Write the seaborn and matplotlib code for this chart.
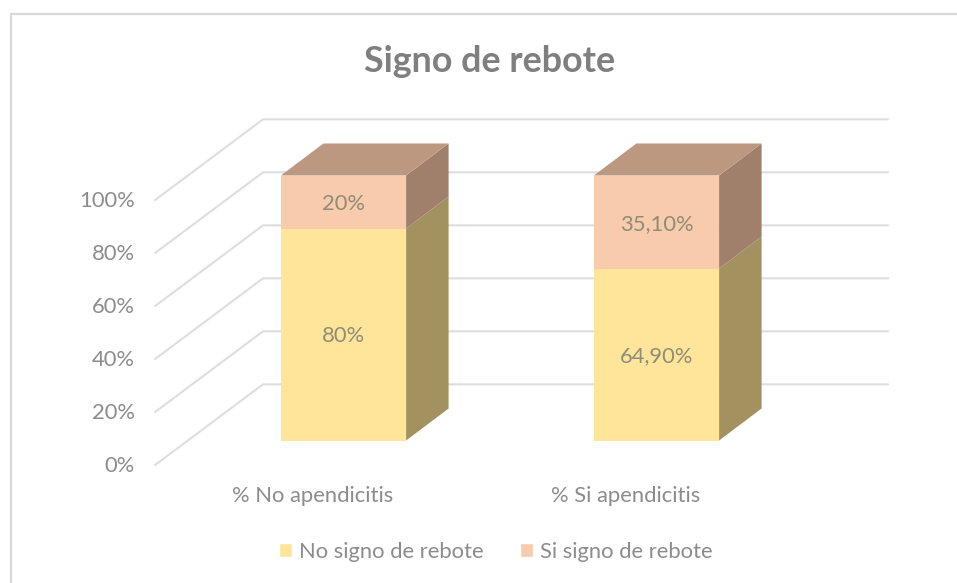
"""
Signo de rebote - stacked bars with a drawn 3D look
"""

import numpy as np
import matplotlib
matplotlib.use('Agg')
import matplotlib.pyplot as plt
from matplotlib.lines import Line2D
from matplotlib.patches import Polygon, Patch
import seaborn as sns

# Data
categories = ['% No apendicitis', '% Si apendicitis']
no_signo = [80, 64.9]
si_signo = [20, 35.1]
no_labels = ['80%', '64,90%']
si_labels = ['20%', '35,10%']
series_names = ['No signo de rebote', 'Si signo de rebote']
y_ticks = [0, 20, 40, 60, 80, 100]

# Colours
YELLOW, PEACH = '#FEE599', '#F7CBAC'
YELLOW_SIDE, PEACH_SIDE, PEACH_TOP = '#A39260', '#A07F6B', '#BD9880'
GRID = '#DEDEDE'
TEXT = '#8C8C8C'

sns.set_style('white')
plt.rcParams['font.family'] = ['Lato', 'DejaVu Sans']

fig = plt.figure(figsize=(9.57, 5.83), dpi=100)
ax = fig.add_axes([0, 0, 1, 1])

# Scale: one category step is 313 px, 100% is 265 px
x_px, y_px = 313.0, 2.65

# Cumulative bar behind, lower segment on top
bar_w = 0.4
total = np.array(no_signo) + np.array(si_signo)
sns.barplot(x=categories, y=total, color=PEACH, width=bar_w, saturation=1, linewidth=0, ax=ax, zorder=3)
sns.barplot(x=categories, y=no_signo, color=YELLOW, width=bar_w, saturation=1, linewidth=0, ax=ax, zorder=4)
ax.set_xlim(-343.5 / x_px, (957 - 343.5) / x_px)
ax.set_ylim(-(583 - 440.5) / y_px, 440.5 / y_px)
ax.axis('off')

# Floor and wall lines
wall_dy, floor_dy = 21.2, -9.25
left_x, corner_x, right_x = -0.602, -0.257, 1.74
for t in y_ticks:
    ax.plot([left_x, corner_x, right_x], [t + floor_dy, t + wall_dy, t + wall_dy],
            color=GRID, lw=1.5, solid_joinstyle='miter', zorder=1)
    ax.text(-0.666, t - 9.6, f'{t}%', ha='right', va='center', fontsize=15.8, color=TEXT)

# Side and top faces
dx, dy = 42.5 / x_px, 32 / y_px
for i in range(len(categories)):
    x1 = i + bar_w / 2
    x0 = i - bar_w / 2
    a, b = no_signo[i], total[i]
    ax.add_patch(Polygon([(x1, 0), (x1 + dx, dy), (x1 + dx, a + dy), (x1, a)],
                         facecolor=YELLOW_SIDE, edgecolor='none', zorder=5))
    ax.add_patch(Polygon([(x1, a), (x1 + dx, a + dy), (x1 + dx, b + dy), (x1, b)],
                         facecolor=PEACH_SIDE, edgecolor='none', zorder=5))
    ax.add_patch(Polygon([(x0, b), (x0 + dx, b + dy), (x1 + dx, b + dy), (x1, b)],
                         facecolor=PEACH_TOP, edgecolor='none', zorder=5))
    ax.text(i, a / 2 - 0.5, no_labels[i], ha='center', va='center', fontsize=15.8, color='#8F8C78', zorder=6)
    ax.text(i, a + si_signo[i] / 2 - 0.7, si_labels[i], ha='center', va='center', fontsize=15.8, color='#8F8C78', zorder=6)
    ax.text(i - 0.1, -21, categories[i], ha='center', va='center', fontsize=15.8, color=TEXT)

ax.text(0.512, 0.895, 'Signo de rebote', transform=fig.transFigure, ha='center', va='center',
        fontsize=25.8, fontweight='bold', color='#7F7F7F')

handles = [Patch(facecolor=YELLOW, label=series_names[0]), Patch(facecolor=PEACH, label=series_names[1])]
fig.legend(handles=handles, loc='center', bbox_to_anchor=(0.518, 0.0535), ncol=2, frameon=False,
           fontsize=15.8, labelcolor=TEXT, handlelength=0.6, handleheight=0.6,
           handletextpad=0.3, columnspacing=1.65)

# Chart frame: left and top edges only reach the picture
for xs, ys in [([10.5, 10.5], [583, 14]), ([10.5, 957], [14, 14])]:
    fig.add_artist(Line2D(np.array(xs) / 957, 1 - np.array(ys) / 583, color='#D9D9D9', lw=1.6))

fig.savefig('out.png', dpi=100)
plt.close()
